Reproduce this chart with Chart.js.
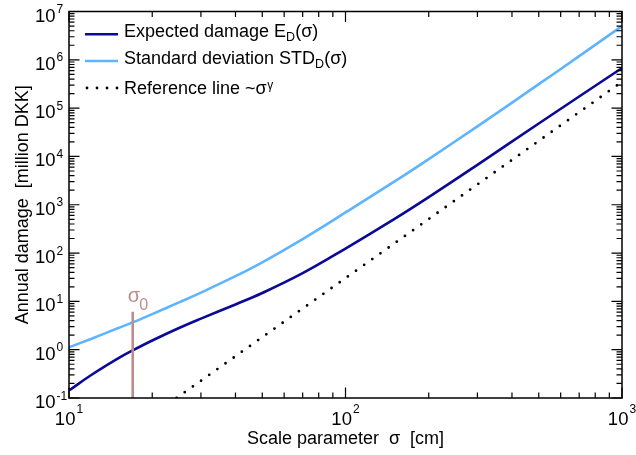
<!DOCTYPE html>
<html>
<head>
<meta charset="utf-8">
<script src="https://cdn.jsdelivr.net/npm/chart.js@4.4.1/dist/chart.umd.min.js"></script>
<style>
  html, body { margin: 0; padding: 0; background: #fff; }
  #wrap { width: 636px; height: 455px; }
</style>
</head>
<body>
<div id="wrap"><canvas id="damageChart" width="636" height="455"></canvas></div>
<script>
// Scale parameter sigma [cm]
const sigma = [10, 12, 15, 17, 20, 25, 30, 40, 50, 70, 100, 150, 200, 300, 500, 700, 1000];
// Expected damage E_D(sigma) [million DKK]
const expectedDamage = [0.143, 0.296, 0.653, 0.966, 1.55, 2.81, 4.39, 8.63, 14.9, 38.3, 124, 504, 1440, 6710, 4.81e4, 1.74e5, 6.76e5];
// Standard deviation STD_D(sigma) [million DKK]
const stdDamage = [1.12, 1.67, 2.77, 3.68, 5.46, 9.53, 15.2, 33.2, 64.4, 195, 692, 3000, 8830, 4.2e4, 3.13e5, 1.19e6, 4.97e6];
// Reference line ~sigma^gamma (end points)
const refSigma = [24.5, 1000];
const refDamage = [0.1, 3.5e5];
// sigma_0 marker
const sigma0 = 17;
const sigma0Span = [0.1, 6.1];

// Axis limits and decade labels
const xRange = [10, 1000];
const yRange = [0.1, 1e7];
const xTickValues = [10, 100, 1000];
const xTickExp = ['1', '2', '3'];
const yTickValues = [0.1, 1, 10, 100, 1e3, 1e4, 1e5, 1e6, 1e7];
const yTickExp = ['-1', '0', '1', '2', '3', '4', '5', '6', '7'];

const FONT = '"Liberation Sans", Arial, Helvetica, sans-serif';
const DARK = '#0a0a96';
const LIGHT = '#5fb4ff';
const ROSE = '#bd8d8d';

function pts(xs, ys) {
    return xs.map((v, i) => ({ x: v, y: ys[i] }));
}

function text(ctx, str, x, y, size, color) {
    ctx.font = size + 'px ' + FONT;
    ctx.fillStyle = color || '#000';
    ctx.fillText(str, x, y);
    return ctx.measureText(str).width;
}

function textWidth(ctx, str, size) {
    ctx.font = size + 'px ' + FONT;
    return ctx.measureText(str).width;
}

// major + minor tick values of a log axis
function logTicks(min, max) {
    const out = [];
    for (let e = Math.floor(Math.log10(min)); e <= Math.ceil(Math.log10(max)); e++) {
        for (let k = 1; k <= 9; k++) {
            const v = k * Math.pow(10, e);
            if (v >= min * 0.999 && v <= max * 1.001) out.push({ v: v, major: k === 1 });
        }
    }
    return out;
}

// Frame, inward ticks, labels, legend
const framePlugin = {
    id: 'framePlugin',
    afterDraw(chart) {
        const ctx = chart.ctx;
        const a = chart.chartArea;
        const x = chart.scales.x;
        const y = chart.scales.y;
        ctx.save();
        ctx.textAlign = 'left';
        ctx.textBaseline = 'alphabetic';

        // box
        ctx.strokeStyle = '#000';
        ctx.lineWidth = 1.5;
        ctx.strokeRect(a.left, a.top, a.right - a.left, a.bottom - a.top);

        // ticks
        ctx.lineWidth = 1.2;
        ctx.beginPath();
        logTicks(xRange[0], xRange[1]).forEach(t => {
            const px = x.getPixelForValue(t.v);
            const len = t.major ? 10.5 : 5.5;
            ctx.moveTo(px, a.bottom); ctx.lineTo(px, a.bottom - len);
            ctx.moveTo(px, a.top); ctx.lineTo(px, a.top + len);
        });
        logTicks(yRange[0], yRange[1]).forEach(t => {
            const py = y.getPixelForValue(t.v);
            const len = t.major ? 10.5 : 5.5;
            ctx.moveTo(a.left, py); ctx.lineTo(a.left + len, py);
            ctx.moveTo(a.right, py); ctx.lineTo(a.right - len, py);
        });
        ctx.stroke();

        // x tick labels
        xTickValues.forEach((v, i) => {
            const px = x.getPixelForValue(v);
            const wb = textWidth(ctx, '10', 18.5);
            const we = textWidth(ctx, xTickExp[i], 12);
            const x0 = px - (wb + we + 1) / 2;
            text(ctx, '10', x0, a.bottom + 27, 18.5);
            text(ctx, xTickExp[i], x0 + wb + 1, a.bottom + 15, 12);
        });

        // y tick labels
        yTickValues.forEach((v, i) => {
            const py = y.getPixelForValue(v);
            const wb = text(ctx, '10', 35, py + 10, 18.5);
            text(ctx, yTickExp[i], 35 + wb + 1, py + 1.5, 12);
        });

        // axis titles
        ctx.textAlign = 'center';
        text(ctx, 'Scale parameter  \u03c3  [cm]', (a.left + a.right) / 2, 444, 18);
        ctx.save();
        ctx.translate(28, (a.top + a.bottom) / 2);
        ctx.rotate(-Math.PI / 2);
        text(ctx, 'Annual damage  [million DKK]', 0, 0, 18);
        ctx.restore();
        ctx.textAlign = 'left';

        // sigma_0 label
        const sx = x.getPixelForValue(sigma0);
        const sy = y.getPixelForValue(sigma0Span[1]);
        text(ctx, '\u03c3', sx - 5, sy - 9.5, 20, ROSE);
        text(ctx, '0', sx + 6.5, sy - 1.5, 16, ROSE);

        // legend
        const lx0 = 85, lx1 = 118, tx = 124;
        ctx.lineWidth = 2.6;
        ctx.strokeStyle = DARK;
        ctx.beginPath(); ctx.moveTo(lx0, 34.3); ctx.lineTo(lx1, 34.3); ctx.stroke();
        ctx.strokeStyle = LIGHT;
        ctx.beginPath(); ctx.moveTo(lx0, 61); ctx.lineTo(lx1, 61); ctx.stroke();
        ctx.fillStyle = '#000';
        [87, 97, 107, 117].forEach(dx => {
            ctx.beginPath(); ctx.arc(dx, 88, 1.4, 0, Math.PI * 2); ctx.fill();
        });

        let cx = tx;
        cx += text(ctx, 'Expected damage E', cx, 37.3, 18);
        cx += text(ctx, 'D', cx, 41, 12.5);
        text(ctx, '(\u03c3)', cx, 37.3, 18);

        cx = tx;
        cx += text(ctx, 'Standard deviation STD', cx, 64, 18);
        cx += text(ctx, 'D', cx, 67.7, 12.5);
        text(ctx, '(\u03c3)', cx, 64, 18);

        cx = tx;
        cx += text(ctx, 'Reference line ~\u03c3', cx, 94, 18);
        text(ctx, '\u03b3', cx + 0.5, 88.5, 12);

        ctx.restore();
    }
};

const chart = new Chart(document.getElementById('damageChart'), {
    type: 'line',
    data: {
        datasets: [
            {
                label: 'sigma0',
                data: pts([sigma0, sigma0], sigma0Span),
                borderColor: ROSE,
                borderWidth: 2.6,
                pointRadius: 0
            },
            {
                label: 'Expected damage',
                data: pts(sigma, expectedDamage),
                borderColor: DARK,
                borderWidth: 2.6,
                pointRadius: 0,
                tension: 0.4
            },
            {
                label: 'Standard deviation',
                data: pts(sigma, stdDamage),
                borderColor: LIGHT,
                borderWidth: 2.6,
                pointRadius: 0,
                tension: 0.4
            },
            {
                label: 'Reference line',
                data: pts(refSigma, refDamage),
                borderColor: '#000',
                borderWidth: 2.8,
                borderDash: [0, 10],
                borderCapStyle: 'round',
                pointRadius: 0
            }
        ]
    },
    options: {
        responsive: false,
        animation: false,
        events: [],
        layout: { padding: { left: 69, right: 14, top: 11.5, bottom: 57 } },
        plugins: {
            legend: { display: false },
            tooltip: { enabled: false },
            title: { display: false }
        },
        scales: {
            x: { type: 'logarithmic', min: xRange[0], max: xRange[1], display: false },
            y: { type: 'logarithmic', min: yRange[0], max: yRange[1], display: false }
        }
    },
    plugins: [framePlugin]
});
</script>
</body>
</html>
